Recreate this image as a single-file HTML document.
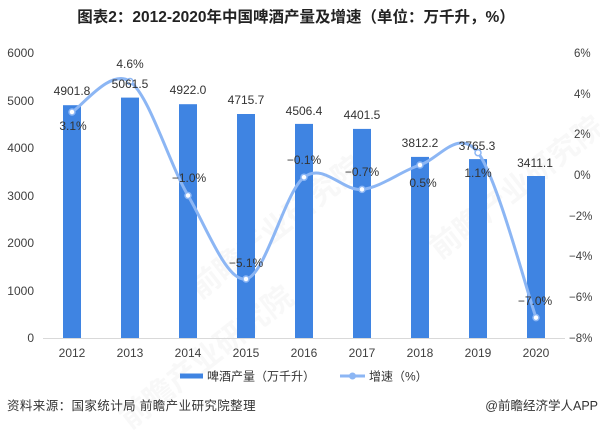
<!DOCTYPE html>
<html>
<head>
<meta charset="utf-8">
<style>
  html,body{margin:0;padding:0;background:#fff;}
  svg{display:block;}
  text{font-family:"Liberation Sans","Noto Sans CJK SC",sans-serif;}
</style>
</head>
<body>
<svg width="600" height="430" viewBox="0 0 600 430" xmlns="http://www.w3.org/2000/svg">
  <rect width="600" height="430" fill="#fff"/>

  <!-- faint watermarks -->
  <g opacity="0.03" fill="#000" font-size="30" font-weight="bold">
    <text x="0" y="0" transform="translate(200,300) rotate(-38)">前瞻产业研究院</text>
    <text x="0" y="0" transform="translate(440,260) rotate(-38)">前瞻产业研究院</text>
    <text x="0" y="0" transform="translate(130,430) rotate(-38)">前瞻产业研究院</text>
  </g>

  <!-- title -->
  <text x="296" y="22" text-anchor="middle" font-size="15.5" font-weight="bold" fill="#222">图表2：2012-2020年中国啤酒产量及增速（单位：万千升，%）</text>

  <!-- left axis labels -->
  <g font-size="12" fill="#404040" text-anchor="end">
    <text x="34" y="57">6000</text>
    <text x="34" y="105">5000</text>
    <text x="34" y="152">4000</text>
    <text x="34" y="200">3000</text>
    <text x="34" y="247">2000</text>
    <text x="34" y="295">1000</text>
    <text x="34" y="342">0</text>
  </g>

  <!-- right axis labels -->
  <g font-size="11.5" fill="#404040" text-anchor="start">
    <text x="574" y="57">6%</text>
    <text x="574" y="98">4%</text>
    <text x="574" y="138">2%</text>
    <text x="574" y="179">0%</text>
    <text x="569" y="220">−2%</text>
    <text x="569" y="260">−4%</text>
    <text x="569" y="301">−6%</text>
    <text x="569" y="342">−8%</text>
  </g>

  <!-- bars -->
  <g fill="#3f84e2">
    <rect x="63" y="105.2" width="18" height="232.8"/>
    <rect x="121" y="97.6" width="18" height="240.4"/>
    <rect x="179" y="104.2" width="18" height="233.8"/>
    <rect x="237" y="114.0" width="18" height="224.0"/>
    <rect x="295" y="123.9" width="18" height="214.1"/>
    <rect x="353" y="128.9" width="18" height="209.1"/>
    <rect x="411" y="156.9" width="18" height="181.1"/>
    <rect x="469" y="159.1" width="18" height="178.9"/>
    <rect x="527" y="176.0" width="18" height="162.0"/>
  </g>

  <!-- x axis -->
  <line x1="43" y1="338.5" x2="565" y2="338.5" stroke="#d9d9d9" stroke-width="1"/>
  <g font-size="12" fill="#404040" text-anchor="middle">
    <text x="72" y="357">2012</text>
    <text x="130" y="357">2013</text>
    <text x="188" y="357">2014</text>
    <text x="246" y="357">2015</text>
    <text x="304" y="357">2016</text>
    <text x="362" y="357">2017</text>
    <text x="420" y="357">2018</text>
    <text x="478" y="357">2019</text>
    <text x="536" y="357">2020</text>
  </g>

  <!-- growth line -->
  <path d="M72,112.0 C81.67,106.9 110.67,67.6 130,81.5 C149.33,95.4 168.67,162.6 188,195.5 C207.33,228.4 226.67,282.05 246,279.0 C265.33,275.95 284.67,192.13 304,177.2 C323.33,162.27 342.67,191.43 362,189.4 C381.33,187.37 400.67,171.12 420,165.0 C439.33,158.88 458.67,127.27 478,152.7 C497.33,178.13 526.33,290.12 536,317.6"
        fill="none" stroke="#8cb6f4" stroke-width="3" stroke-linecap="round" stroke-linejoin="round"/>
  <g fill="#fff" stroke="#8cb6f4" stroke-width="1.5">
    <circle cx="72" cy="112.0" r="3"/>
    <circle cx="130" cy="81.5" r="3"/>
    <circle cx="188" cy="195.5" r="3"/>
    <circle cx="246" cy="279.0" r="3"/>
    <circle cx="304" cy="177.2" r="3"/>
    <circle cx="362" cy="189.4" r="3"/>
    <circle cx="420" cy="165.0" r="3"/>
    <circle cx="478" cy="152.7" r="3"/>
    <circle cx="536" cy="317.6" r="3"/>
  </g>

  <!-- value labels -->
  <g font-size="12" fill="#333" text-anchor="middle">
    <text x="72" y="95">4901.8</text>
    <text x="130" y="88">5061.5</text>
    <text x="188" y="94">4922.0</text>
    <text x="246" y="104">4715.7</text>
    <text x="304" y="115">4506.4</text>
    <text x="362" y="119">4401.5</text>
    <text x="420" y="147">3812.2</text>
    <text x="477" y="150">3765.3</text>
    <text x="535" y="167">3411.1</text>
  </g>

  <!-- percent labels -->
  <g font-size="12" fill="#333" text-anchor="middle">
    <text x="73" y="130">3.1%</text>
    <text x="130" y="68">4.6%</text>
    <text x="189" y="182">−1.0%</text>
    <text x="246" y="267">−5.1%</text>
    <text x="304" y="164">−0.1%</text>
    <text x="362" y="176">−0.7%</text>
    <text x="423" y="187">0.5%</text>
    <text x="478" y="177">1.1%</text>
    <text x="535" y="305">−7.0%</text>
  </g>

  <!-- legend -->
  <rect x="180" y="373.5" width="23" height="5" fill="#3f84e2"/>
  <text x="207" y="380.5" font-size="12" fill="#333">啤酒产量（万千升）</text>
  <line x1="340" y1="376" x2="365" y2="376" stroke="#8cb6f4" stroke-width="3"/>
  <circle cx="352.5" cy="376" r="3" fill="#8cb6f4" stroke="#8cb6f4" stroke-width="1"/>
  <text x="369" y="380.5" font-size="12" fill="#333">增速（%）</text>

  <!-- footer -->
  <text x="7" y="410" font-size="12.5" fill="#333" letter-spacing="0.4">资料来源：国家统计局  前瞻产业研究院整理</text>
  <text x="598" y="410" font-size="12.5" fill="#333" text-anchor="end">@前瞻经济学人APP</text>
</svg>
</body>
</html>
